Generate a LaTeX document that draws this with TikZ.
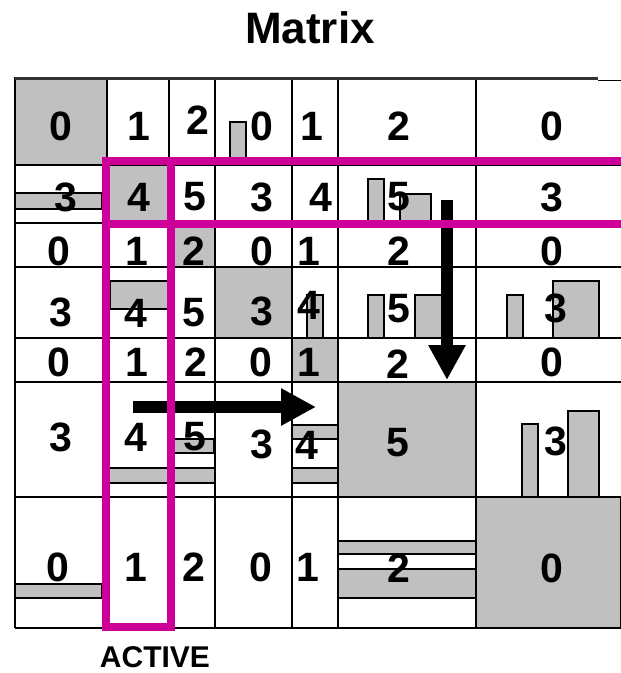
\documentclass[tikz,border=0pt]{standalone}
\usepackage{fontspec}
\setmainfont{Liberation Sans}
\usetikzlibrary{arrows.meta}
\definecolor{mag}{RGB}{204,0,153}
\definecolor{cellgray}{RGB}{192,192,192}
\begin{document}
\begin{tikzpicture}[x=1pt,y=-1pt,
  gridline/.style={line width=1.5pt, black},
  fillcell/.style={fill=cellgray, draw=black, line width=1.2pt},
  bar/.style={fill=cellgray, draw=black, line width=1.2pt},
  dig/.style={font=\fontsize{41}{41}\selectfont\bfseries, inner sep=0pt},
  sel/.style={draw=mag, line width=7.7pt},
  bigarrow/.style={line width=12pt, -{Triangle[length=35pt,width=35pt]}},
]
\useasboundingbox (0,0) rectangle (621,673);

% diagonal gray cells
\draw[fillcell] (15,78) rectangle (107,165);
\draw[fillcell] (107,165) rectangle (169,223);
\draw[fillcell] (169,223) rectangle (215,267);
\draw[fillcell] (215,267) rectangle (292,338);
\draw[fillcell] (292,338) rectangle (338,382);
\draw[fillcell] (338,382) rectangle (476,497);
\draw[fillcell] (476,497) rectangle (621,628);

% bars
\draw[bar] (230,122) rectangle (246,165);
\draw[bar] (15,193) rectangle (102,209);
\draw[bar] (368,179) rectangle (384,223);
\draw[bar] (400,194) rectangle (431,223);
\draw[bar] (110,281) rectangle (168,309);
\draw[bar] (307,295) rectangle (323,338);
\draw[bar] (368,295) rectangle (384,338);
\draw[bar] (415,295) rectangle (442,338);
\draw[bar] (507,295) rectangle (523,338);
\draw[bar] (553,281) rectangle (599,338);
\draw[bar] (169,439) rectangle (214,453);
\draw[bar] (107,468) rectangle (215,483);
\draw[bar] (292,425) rectangle (338,439);
\draw[bar] (292,468) rectangle (338,483);
\draw[bar] (522,424) rectangle (538,497);
\draw[bar] (568,411) rectangle (599,497);
\draw[bar] (15,584) rectangle (102,598);
\draw[bar] (338,541) rectangle (476,554);
\draw[bar] (338,569) rectangle (476,598);

% grid
\foreach \yy in {165,223,267,338,382,497,628}
  \draw[gridline] (15,\yy) -- (621,\yy);
\foreach \xx in {15,107,169,215,292,338,476}
  \draw[gridline] (\xx,78) -- (\xx,628);
\draw[line width=3pt, black!80] (15,78) -- (598,78);
\draw[line width=1.2pt] (598,80.5) -- (621,80.5);

% title and label
\node[font=\fontsize{44}{44}\selectfont\bfseries, inner sep=0pt] (title) at (310,28) {Matrix};
\node[font=\fontsize{30}{30}\selectfont\bfseries, inner sep=0pt] (active) at (155,657) {ACTIVE};

% digits row 0
\node[dig] (r0c0) at (61,126) {0};
\node[dig] (r0c1) at (139,126) {1};
\node[dig] (r0c2) at (198,120) {2};
\node[dig] (r0c3) at (262,126) {0};
\node[dig] (r0c4) at (312,126) {1};
\node[dig] (r0c5) at (399,126) {2};
\node[dig] (r0c6) at (552,126) {0};
% row 1
\node[dig] (r1c0) at (66,197) {3};
\node[dig] (r1c1) at (139,197) {4};
\node[dig] (r1c2) at (195,197) {5};
\node[dig] (r1c3) at (262,197) {3};
\node[dig] (r1c4) at (321,197) {4};
\node[dig] (r1c5) at (399,197) {5};
\node[dig] (r1c6) at (552,197) {3};
% row 2
\node[dig] (r2c0) at (59,251) {0};
\node[dig] (r2c1) at (137,251) {1};
\node[dig] (r2c2) at (194,251) {2};
\node[dig] (r2c3) at (262,251) {0};
\node[dig] (r2c4) at (309,251) {1};
\node[dig] (r2c5) at (399,251) {2};
\node[dig] (r2c6) at (552,251) {0};
% row 3
\node[dig] (r3c0) at (61,312) {3};
\node[dig] (r3c1) at (136,313) {4};
\node[dig] (r3c2) at (194,313) {5};
\node[dig] (r3c3) at (262,311) {3};
\node[dig] (r3c4) at (309,305) {4};
\node[dig] (r3c5) at (399,309) {5};
\node[dig] (r3c6) at (556,308) {3};
% row 4
\node[dig] (r4c0) at (59,362) {0};
\node[dig] (r4c1) at (137,362) {1};
\node[dig] (r4c2) at (196,362) {2};
\node[dig] (r4c3) at (261,362) {0};
\node[dig] (r4c4) at (309,362) {1};
\node[dig] (r4c5) at (398,364) {2};
\node[dig] (r4c6) at (552,362) {0};
% row 5
\node[dig] (r5c0) at (61,437) {3};
\node[dig] (r5c1) at (136,437) {4};
\node[dig] (r5c2) at (195,437) {5};
\node[dig] (r5c3) at (262,444) {3};
\node[dig] (r5c4) at (307,445) {4};
\node[dig] (r5c5) at (398,443) {5};
\node[dig] (r5c6) at (556,441) {3};
% row 6
\node[dig] (r6c0) at (58,567) {0};
\node[dig] (r6c1) at (136,567) {1};
\node[dig] (r6c2) at (194,567) {2};
\node[dig] (r6c3) at (261,567) {0};
\node[dig] (r6c4) at (308,567) {1};
\node[dig] (r6c5) at (399,568) {2};
\node[dig] (r6c6) at (552,568) {0};

% arrows
\coordinate (hs) at (133,407);
\coordinate (he) at (316,407);
\coordinate (vs) at (447,200);
\coordinate (ve) at (447,380);
\draw[bigarrow] (hs) -- (he);
\draw[bigarrow] (vs) -- (ve);

% active selection
\draw[sel] (106,161) rectangle (171,627);
\draw[sel] (621,161) -- (106,161) -- (106,224) -- (621,224);
\end{tikzpicture}
\end{document}
